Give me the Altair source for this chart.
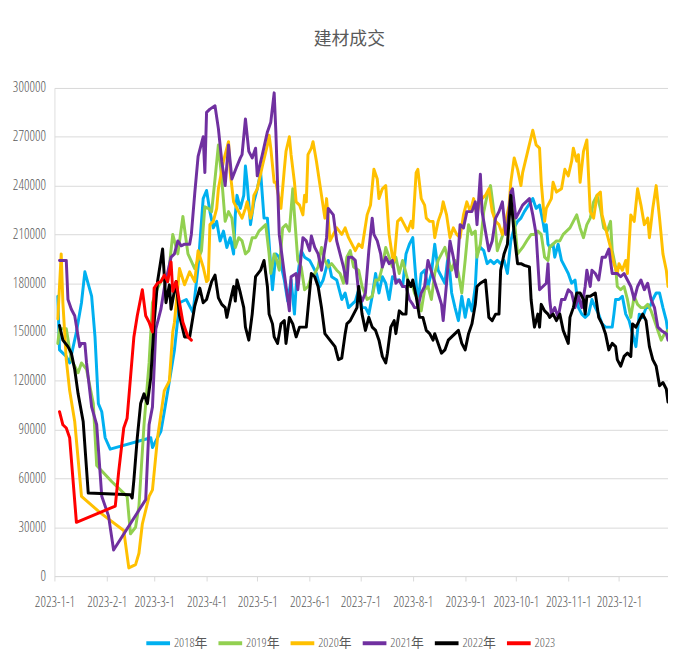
import altair as alt
import pandas as pd

# Day of year (0 = 2023-01-01) and value in thousands
s2018 = [(2,172),(3,139),(7,135),(9,131),(13,150),(16,168),(18,187),(22,172),(24,147),(26,106),(28,101),(30,85),(33,78),(57,85),(58,79),(63,89),(65,101),(69,126),(71,139),(74,168),(78,170),(82,162),(85,190),(88,232),(90,237),(92,224),(94,214),(96,218),(98,206),(100,212),(102,202),(104,208),(106,198),(107,222),(108,234),(110,226),(112,234),(113,252),(114,242),(116,216),(118,230),(120,238),(122,248),(124,220),(126,220),(128,190),(129,176),(131,198),(133,196),(136,182),(138,169),(140,182),(142,161),(143,178),(146,200),(148,196),(151,194),(153,190),(155,186),(157,178),(159,182),(162,194),(164,184),(167,182),(170,170),(172,174),(174,165),(176,167),(178,169),(180,176),(182,165),(184,165),(186,161),(188,172),(190,186),(192,174),(194,184),(196,180),(198,170),(200,184),(202,182),(204,182),(206,178),(208,198),(210,204),(212,208),(213,194),(215,167),(217,186),(219,188),(221,178),(223,186),(225,204),(227,188),(229,184),(231,180),(233,198),(235,174),(237,165),(239,157),(241,172),(243,159),(245,170),(247,163),(249,178),(250,198),(252,202),(254,200),(256,192),(258,194),(260,192),(262,194),(264,192),(266,194),(268,186),(270,206),(272,214),(274,218),(276,220),(278,224),(283,232),(285,226),(287,228),(289,218),(290,212),(291,216),(292,204),(293,202),(295,204),(296,196),(298,204),(300,194),(302,190),(304,186),(306,180),(308,182),(310,165),(312,161),(314,159),(316,161),(318,170),(320,165),(322,161),(324,155),(326,153),(328,153),(330,153),(331,161),(332,170),(334,170),(336,172),(338,161),(340,157),(342,149),(344,141),(346,161),(348,159),(350,165),(352,165),(354,170),(356,174),(358,174),(360,165),(362,157),(363,149)]

s2019 = [(2,143),(3,152),(7,152),(10,133),(14,125),(16,131),(19,127),(23,106),(25,68),(34,58),(43,49),(45,26),(48,30),(50,43),(53,93),(56,131),(58,168),(61,177),(64,183),(67,181),(70,210),(73,198),(76,221),(79,198),(83,189),(87,200),(89,227),(91,226),(93,224),(95,244),(97,265),(99,244),(101,218),(103,224),(105,220),(107,202),(109,208),(111,206),(113,198),(115,200),(117,208),(119,208),(121,212),(123,214),(125,216),(127,198),(128,186),(130,198),(131,196),(133,188),(135,214),(137,216),(139,212),(141,238),(142,222),(144,194),(146,190),(148,176),(150,178),(152,184),(154,186),(156,190),(158,202),(160,194),(162,190),(164,192),(167,188),(169,186),(171,180),(173,196),(175,200),(177,190),(180,188),(182,178),(185,170),(188,172),(190,182),(192,182),(194,190),(196,202),(198,196),(200,190),(202,196),(204,186),(206,194),(208,186),(210,178),(212,178),(213,174),(215,170),(217,163),(219,176),(221,178),(223,170),(225,186),(227,194),(229,198),(231,202),(233,194),(235,188),(237,194),(239,186),(241,174),(243,194),(245,216),(247,210),(249,212),(250,196),(252,204),(254,224),(256,234),(258,240),(260,224),(262,200),(264,206),(266,212),(268,218),(270,228),(272,220),(274,198),(277,202),(280,207),(282,210),(284,210),(286,212),(288,210),(290,196),(292,194),(293,202),(295,204),(297,206),(299,206),(301,210),(303,212),(305,214),(307,218),(309,222),(311,214),(313,208),(315,216),(317,220),(319,230),(321,234),(323,226),(325,214),(327,212),(329,218),(330,200),(332,190),(333,178),(335,176),(337,178),(339,170),(341,159),(343,172),(345,167),(347,165),(349,165),(351,167),(353,163),(355,157),(357,151),(359,145),(361,149),(363,151)]

s2020 = [(2,158),(4,198),(5,168),(7,133),(9,114),(12,95),(16,49),(27,39),(41,28),(44,5),(48,7),(50,14),(52,32),(56,49),(58,53),(61,85),(65,114),(68,120),(70,150),(71,156),(74,189),(77,179),(80,187),(83,181),(85,200),(88,190),(90,181),(91,182),(92,216),(94,218),(96,226),(97,238),(100,255),(103,267),(104,248),(106,230),(109,224),(111,220),(113,226),(114,230),(116,220),(117,224),(118,234),(120,238),(123,252),(126,265),(127,271),(128,263),(130,242),(131,242),(134,226),(136,250),(137,261),(139,270),(140,259),(142,242),(143,230),(145,228),(147,222),(148,234),(149,230),(150,259),(152,263),(153,267),(155,255),(158,234),(160,220),(161,232),(163,206),(167,214),(170,210),(172,214),(174,208),(178,200),(180,204),(182,202),(185,222),(187,228),(189,250),(191,244),(192,232),(194,238),(196,240),(198,210),(200,196),(201,194),(203,218),(205,220),(207,216),(209,212),(211,218),(212,214),(214,248),(215,250),(217,232),(219,228),(220,220),(222,218),(224,218),(225,208),(227,218),(229,224),(230,230),(232,222),(234,208),(236,214),(238,210),(240,208),(242,222),(244,230),(246,224),(248,232),(250,222),(251,228),(253,232),(255,234),(257,238),(259,224),(261,218),(263,216),(265,210),(267,218),(269,228),(270,242),(272,257),(274,250),(276,240),(277,248),(280,261),(283,274),(285,265),(287,263),(288,242),(290,218),(291,226),(293,230),(294,232),(295,242),(297,236),(300,238),(302,250),(304,246),(306,255),(307,263),(309,255),(310,259),(311,242),(313,261),(315,268),(316,246),(317,224),(319,220),(321,234),(323,236),(324,222),(326,214),(328,206),(329,202),(331,192),(333,186),(334,192),(336,188),(338,194),(339,186),(341,222),(343,218),(345,238),(347,228),(349,216),(351,220),(352,208),(354,226),(356,240),(358,220),(360,198),(362,188),(363,178)]

s2021 = [(3,194),(7,194),(8,170),(10,164),(12,160),(15,141),(16,143),(18,143),(19,131),(22,104),(25,93),(28,49),(32,37),(35,16),(54,47),(56,93),(58,104),(60,152),(63,164),(65,177),(69,196),(71,198),(73,206),(75,203),(77,204),(80,204),(81,210),(83,235),(85,258),(88,270),(89,248),(90,285),(92,287),(95,289),(97,275),(99,255),(101,240),(103,265),(105,244),(108,252),(110,257),(111,259),(113,281),(115,261),(117,257),(119,263),(120,246),(123,259),(126,273),(128,279),(130,297),(131,273),(133,210),(136,186),(139,163),(140,184),(143,186),(144,176),(147,208),(149,206),(151,200),(152,209),(154,202),(156,198),(158,188),(161,208),(162,226),(165,222),(167,206),(169,198),(171,190),(173,180),(174,196),(176,196),(178,194),(180,174),(182,169),(184,174),(186,200),(188,220),(189,210),(191,206),(193,198),(194,190),(196,196),(198,192),(200,194),(202,180),(204,182),(206,178),(208,178),(210,170),(212,167),(213,165),(215,165),(217,174),(219,178),(221,194),(224,184),(227,174),(229,167),(230,157),(232,180),(234,206),(236,196),(238,184),(240,216),(242,214),(244,224),(247,224),(249,230),(250,216),(252,247),(253,224),(255,212),(257,200),(259,206),(261,220),(263,224),(265,230),(267,210),(268,214),(270,236),(271,238),(273,220),(275,224),(277,228),(279,230),(281,232),(283,222),(285,210),(287,176),(289,178),(291,180),(292,192),(293,170),(294,161),(296,165),(298,159),(300,170),(302,170),(304,176),(306,174),(308,165),(310,172),(312,165),(314,178),(315,188),(317,178),(318,188),(320,186),(322,182),(324,196),(326,196),(328,201),(330,186),(332,186),(333,186),(335,184),(337,186),(339,182),(341,178),(343,170),(345,178),(347,182),(349,176),(351,180),(353,170),(355,165),(357,153),(359,151),(362,149),(363,145)]

s2022 = [(3,154),(5,145),(8,141),(10,137),(12,127),(14,112),(17,95),(20,51),(45,50),(46,48),(47,59),(49,85),(51,106),(53,112),(55,106),(57,122),(59,156),(61,181),(64,201),(66,168),(68,179),(69,164),(72,181),(74,160),(77,147),(80,147),(83,166),(86,177),(88,168),(90,170),(93,181),(95,185),(97,171),(99,167),(101,165),(102,159),(104,169),(106,178),(107,169),(108,182),(110,174),(112,165),(113,153),(115,145),(117,161),(119,184),(122,188),(124,194),(126,178),(127,161),(129,155),(130,147),(132,143),(134,155),(136,157),(137,143),(139,159),(141,155),(143,147),(145,153),(147,153),(149,153),(152,186),(154,184),(156,178),(158,165),(160,149),(163,145),(166,141),(168,133),(170,134),(172,149),(173,155),(175,157),(177,161),(179,165),(180,178),(182,161),(184,151),(186,159),(188,153),(190,151),(192,145),(194,135),(196,131),(197,137),(199,153),(201,157),(202,149),(204,163),(206,161),(208,161),(209,182),(211,178),(212,182),(214,172),(216,159),(218,159),(220,151),(222,149),(224,145),(225,149),(227,143),(229,137),(231,139),(233,145),(235,147),(237,149),(239,151),(241,143),(243,139),(245,149),(247,155),(249,167),(250,178),(252,180),(255,182),(257,159),(259,157),(261,161),(263,161),(264,188),(266,198),(268,204),(270,234),(272,210),(274,192),(276,192),(278,191),(281,190),(282,170),(283,161),(284,153),(286,161),(287,153),(288,167),(290,163),(292,161),(293,159),(295,161),(297,157),(299,161),(301,151),(304,143),(305,159),(307,165),(309,174),(311,174),(313,170),(314,161),(315,172),(317,172),(320,174),(322,159),(324,155),(326,149),(328,139),(330,143),(332,141),(333,133),(335,129),(337,135),(339,137),(341,135),(342,155),(344,153),(346,157),(348,161),(350,157),(352,141),(354,133),(356,129),(358,117),(360,119),(362,115),(363,107)]

s2023 = [(3,101),(5,93),(7,91),(9,85),(13,33),(36,43),(38,64),(41,91),(43,97),(45,122),(47,147),(49,160),(52,176),(54,160),(56,156),(58,150),(59,177),(61,180),(63,181),(65,185),(67,181),(69,193),(70,175),(72,181),(74,168),(76,156),(79,147),(81,145)]

series_names = ["2018年", "2019年", "2020年", "2021年", "2022年", "2023"]
series_colors = ["#00B0F0", "#92D050", "#FFC000", "#7030A0", "#000000", "#FF0000"]
series_data = [s2018, s2019, s2020, s2021, s2022, s2023]

month_starts = [0, 31, 59, 90, 120, 151, 181, 212, 243, 273, 304, 334]
month_labels = ["2023-1-1", "2023-2-1", "2023-3-1", "2023-4-1", "2023-5-1", "2023-6-1",
                "2023-7-1", "2023-8-1", "2023-9-1", "2023-10-1", "2023-11-1", "2023-12-1"]
y_ticks = [0, 30000, 60000, 90000, 120000, 150000, 180000, 210000, 240000, 270000, 300000]

rows = []
for order, (name, pts) in enumerate(zip(series_names, series_data)):
    for d, v in pts:
        rows.append({"series": name, "order": order, "day": d, "value": v * 1000})
df = pd.DataFrame(rows)

label_expr = ("[" + ",".join(f"'{s}'" for s in month_labels) + "][indexof(["
              + ",".join(str(m) for m in month_starts) + "], datum.value)]")

FONT = "Open Sans Condensed Light, Roboto Condensed, Noto Sans CJK SC"
GRAY = "#595959"
GRID = "#D9D9D9"

chart = alt.Chart(df).mark_line(strokeWidth=3, clip=True, strokeJoin="round", strokeCap="round").encode(
    x=alt.X("day:Q",
            scale=alt.Scale(domain=[0, 363], nice=False, zero=False),
            axis=alt.Axis(values=month_starts, labelExpr=label_expr, title=None, grid=False,
                          domainColor=GRID, tickColor=GRID, tickSize=5, labelFont=FONT,
                          labelFontSize=14, labelColor=GRAY, labelPadding=15,
                          labelOverlap=False, labelFlush=False)),
    y=alt.Y("value:Q",
            scale=alt.Scale(domain=[0, 300000], nice=False),
            axis=alt.Axis(values=y_ticks, format="d", title=None, domain=False, ticks=False,
                          gridColor=GRID, gridWidth=1, labelFont=FONT, labelFontSize=14,
                          labelColor=GRAY, labelPadding=9)),
    color=alt.Color("series:N",
                    scale=alt.Scale(domain=series_names, range=series_colors),
                    legend=alt.Legend(title=None, orient="none", direction="horizontal",
                                      legendX=91, legendY=548, symbolType="stroke",
                                      symbolSize=576, symbolStrokeWidth=4,
                                      labelFont=FONT, labelFontSize=13, labelColor=GRAY,
                                      labelOffset=2, columnPadding=3)),
    detail="order:O",
).properties(
    width=621,
    height=494,
    padding={"left": 47, "top": 77, "right": 0, "bottom": 80},
    autosize=alt.AutoSizeParams(type="none"),
    title=alt.TitleParams("建材成交", font="Noto Sans CJK SC", fontSize=18, fontWeight="normal",
                          color=GRAY, anchor="middle", dx=-12, offset=32),
).configure_view(stroke=None).configure(background="white")

chart.save("out.html", embed_options={"renderer": "svg", "actions": False})
